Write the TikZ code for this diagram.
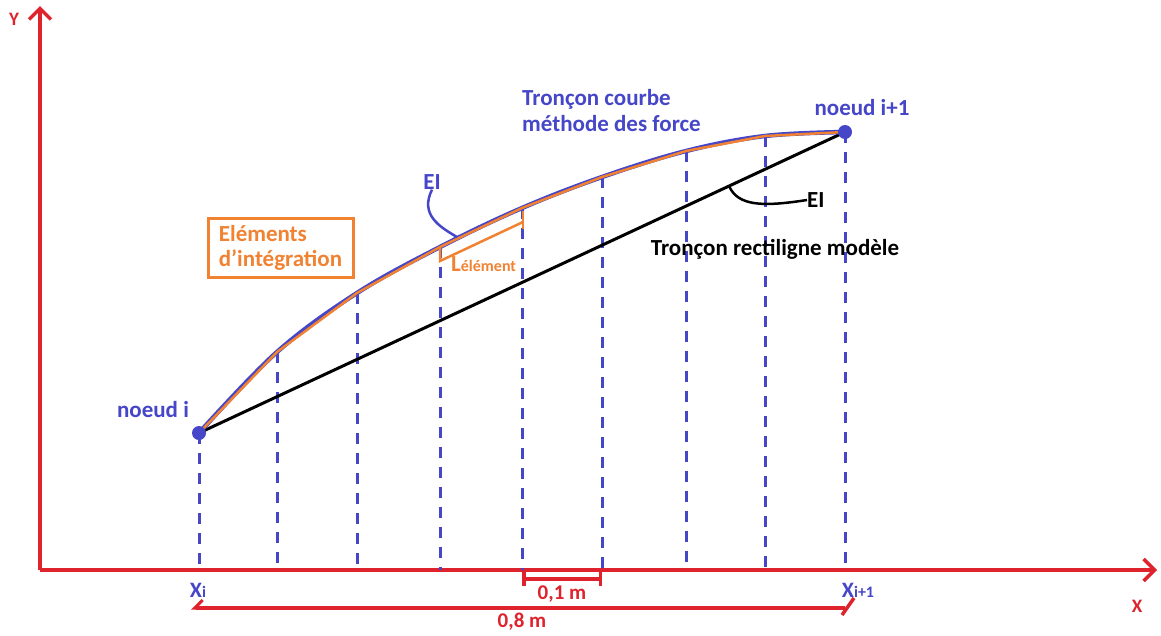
\documentclass[tikz,border=0pt]{standalone}
\usepackage{fontspec}
\setmainfont{Carlito}
\usetikzlibrary{arrows.meta}
\definecolor{axisred}{RGB}{222,35,45}
\definecolor{nodeblue}{RGB}{70,70,200}
\definecolor{elemorange}{RGB}{240,130,50}

\begin{document}
\begin{tikzpicture}[x=1pt, y=-1pt,
    axis/.style    = {draw=axisred, line width=4pt,
                      -{Straight Barb[length=11pt, width=22pt, line width=3.5pt]}},
    dim/.style     = {draw=axisred, line width=3.5pt},
    grid/.style    = {draw=nodeblue, line width=3pt, dash pattern=on 11pt off 9pt},
    lbl/.style     = {font=\fontsize{23}{26}\selectfont\bfseries, inner sep=0pt},
    redlbl/.style  = {font=\fontsize{21}{24}\selectfont\bfseries, text=axisred, inner sep=0pt},
    elembox/.style = {draw=elemorange, line width=3pt, minimum width=145pt,
                      minimum height=59pt, align=left, text=elemorange,
                      font=\fontsize{23}{25}\selectfont\bfseries}
]
\useasboundingbox (0,0) rectangle (1161,635);

% axes
\coordinate (o)  at (40,570);
\coordinate (ye) at (40,6);
\coordinate (xe) at (1157,570);
\draw[axis] (o) -- (ye);
\draw[axis] (o) -- (xe);
\node[redlbl, font=\fontsize{19}{22}\selectfont\bfseries] (ylbl) at (14,19)   {Y};
\node[redlbl, font=\fontsize{19}{22}\selectfont\bfseries] (xlbl) at (1137,606) {X};

% points of the curved segment
\foreach \x/\y [count=\i from 0] in {199/433, 277/352, 357/293, 440/247, 522/208,
                                   602/177, 686/151, 765/136, 845/132}
  \coordinate (p\i) at (\x,\y);

% dashed verticals
\foreach \i in {0,...,8}
  \draw[grid] (p\i) -- (p\i |- o);

% straight model segment
\draw[black, line width=3pt] (p0) -- (p8);

% curved segment and integration elements
\draw[nodeblue, line width=4.5pt] plot[smooth, tension=0.6]
  coordinates {(p0) (p1) (p2) (p3) (p4) (p5) (p6) (p7) (p8)};
\draw[elemorange, line width=2.5pt, line join=round]
  (p0) -- (p1) -- (p2) -- (p3) -- (p4) -- (p5) -- (p6) -- (p7) -- (p8);

% nodes
\fill[nodeblue] (p0) circle (7pt);
\fill[nodeblue] (p8) circle (7pt);
\node[lbl, text=nodeblue] (ni)  at (153,410) {noeud i};
\node[lbl, text=nodeblue] (nip) at (862,108) {noeud i+1};

\node[lbl, text=nodeblue, align=left, anchor=west] (courbe) at (522,111)
  {Tronçon courbe\\méthode des force};
\node[lbl, text=black] (droit) at (775,249) {Tronçon rectiligne modèle};

% EI labels
\node[lbl, text=nodeblue] (eic) at (432,182) {EI};
\coordinate (c1) at (457,237);
\draw[nodeblue, line width=2.5pt] (eic.south) .. controls (420,214) and (438,226) .. (c1);
\node[lbl, text=black, anchor=west] (eid) at (807,200) {EI};
\coordinate (c2) at (729,186);
\draw[black, line width=2.5pt] (c2) .. controls (738,206) and (762,207) .. (eid.west);

% integration element
\node[elembox] (integ) at (280.5,248) {Eléments\\d'intégration};
\draw[elemorange, line width=2.5pt] (440,248) -- (440,261) -- (523,222);
\draw[elemorange, line width=2.5pt] (523,211) -- (523,229);
\node[lbl, text=elemorange, anchor=base west] (lel) at (451,271)
  {L{\fontsize{16}{18}\selectfont élément}};

% abscissae
\node[lbl, text=nodeblue, font=\fontsize{22}{24}\selectfont\bfseries] (xi)  at (198,590)
  {X{\fontsize{16}{18}\selectfont i}};
\node[lbl, text=nodeblue, font=\fontsize{22}{24}\selectfont\bfseries] (xip) at (858,590)
  {X{\fontsize{16}{18}\selectfont i+1}};

% dimensions
\coordinate (d1l) at (522,579);
\coordinate (d1r) at (602,579);
\draw[dim, {Bar[width=14pt]}-{Bar[width=14pt]}] (d1l) -- (d1r);
\node[redlbl] (d1) at (562,594) {0,1 m};

\coordinate (d8l) at (191,608);
\coordinate (d8r) at (845,608);
\draw[dim, {Straight Barb[right, length=8pt, width=16pt, line width=3pt]}-] (d8l) -- (d8r);
\draw[dim] (d8r) ++(-3,7) -- ++(12,-17);
\node[redlbl] (d8) at (522,622) {0,8 m};
\end{tikzpicture}
\end{document}
